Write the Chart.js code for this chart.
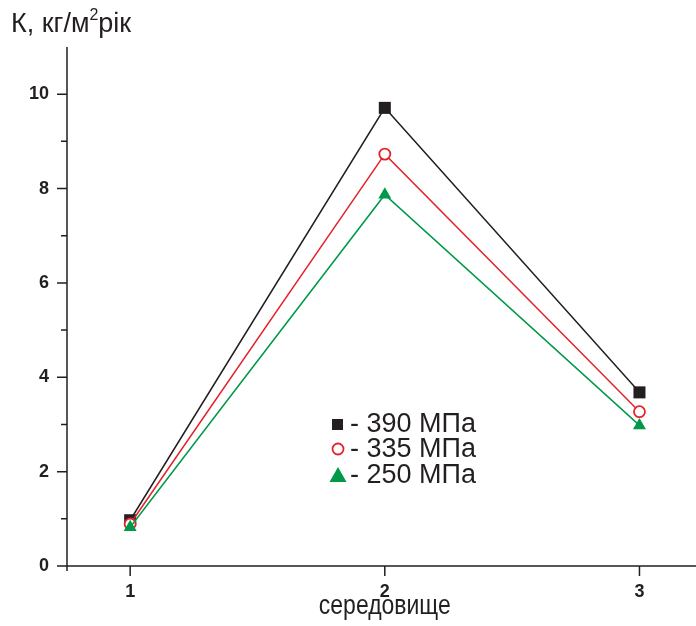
<!DOCTYPE html>
<html><head><meta charset="utf-8">
<script src="https://cdn.jsdelivr.net/npm/chart.js@4"></script>
<style>html,body{margin:0;padding:0;background:#fff;}#w{width:696px;height:626px;}</style>
</head><body><div id="w"><canvas id="c" width="696" height="626"></canvas></div>
<script>
const categories = [1, 2, 3];
const s390 = [0.97, 9.71, 3.68];
const s335 = [0.89, 8.73, 3.27];
const s250 = [0.82, 7.87, 2.98];
const seriesLabels = ['- 390 МПа', '- 335 МПа', '- 250 МПа'];
const yTicks = [0, 2, 4, 6, 8, 10];
const yMinor = [1, 3, 5, 7, 9];
const xTicks = [1, 2, 3];

const BLACK = '#231f20', RED = '#e3232a', GREEN = '#00994a';
const FONT = '"Liberation Sans", Arial, sans-serif';

const pts = a => categories.map((c, i) => ({x: c, y: a[i]}));

const overlay = {
  id: 'overlay',
  afterDraw(chart) {
    const ctx = chart.ctx, xs = chart.scales.x, ys = chart.scales.y;
    const L = xs.left, B = ys.bottom;
    ctx.save();
    ctx.strokeStyle = BLACK; ctx.lineWidth = 1.5;
    ctx.beginPath();
    ctx.moveTo(L, ys.top); ctx.lineTo(L, B + 5);
    ctx.moveTo(L - 10, B); ctx.lineTo(chart.width, B);
    yTicks.forEach(v => { const p = ys.getPixelForValue(v); ctx.moveTo(L - 10, p); ctx.lineTo(L, p); });
    yMinor.forEach(v => { const p = ys.getPixelForValue(v); ctx.moveTo(L - 6, p); ctx.lineTo(L, p); });
    xTicks.forEach(v => { const p = xs.getPixelForValue(v); ctx.moveTo(p, B); ctx.lineTo(p, B + 10); });
    ctx.stroke();
    // title
    ctx.fillStyle = BLACK; ctx.textBaseline = 'alphabetic'; ctx.textAlign = 'left';
    ctx.font = '27px ' + FONT;
    let x = 11; const by = 32;
    ctx.fillText('К, кг/м', x, by); x += ctx.measureText('К, кг/м').width;
    ctx.font = '16px ' + FONT; ctx.fillText('2', x, by - 12); x += ctx.measureText('2').width;
    ctx.font = '27px ' + FONT; ctx.fillText('рік', x, by);
    // x title (condensed)
    ctx.save();
    ctx.font = '28px ' + FONT; ctx.textAlign = 'center';
    const cx = xs.getPixelForValue(2);
    ctx.translate(cx, 614); ctx.scale(0.82, 1);
    ctx.fillText('середовище', 0, 0);
    ctx.restore();
    // legend
    ctx.textAlign = 'left'; ctx.font = '27px ' + FONT; ctx.textBaseline = 'alphabetic';
    const rows = [424, 449, 475];
    const mx = 338;
    ctx.fillStyle = BLACK; ctx.fillRect(mx - 6, rows[0] - 5, 11, 11);
    ctx.strokeStyle = RED; ctx.lineWidth = 1.8; ctx.fillStyle = '#fff';
    ctx.beginPath(); ctx.arc(mx, rows[1], 5.5, 0, Math.PI * 2); ctx.fill(); ctx.stroke();
    ctx.fillStyle = GREEN; ctx.beginPath();
    ctx.moveTo(mx, rows[2] - 8); ctx.lineTo(mx + 8.5, rows[2] + 7); ctx.lineTo(mx - 8.5, rows[2] + 7); ctx.closePath(); ctx.fill();
    ctx.fillStyle = BLACK;
    seriesLabels.forEach((t, i) => ctx.fillText(t, 350, rows[i] + 8));
    ctx.restore();
  }
};

new Chart(document.getElementById('c'), {
  type: 'line',
  data: {
    datasets: [
      {label: '390 МПа', data: pts(s390), borderColor: BLACK, backgroundColor: BLACK, borderWidth: 1.5,
       pointStyle: 'rect', pointRadius: 8.5, pointBorderWidth: 0, order: 3},
      {label: '335 МПа', data: pts(s335), borderColor: RED, backgroundColor: '#fff', borderWidth: 1.5,
       pointStyle: 'circle', pointRadius: 5.5, pointBorderWidth: 1.8, pointBorderColor: RED, order: 2},
      {label: '250 МПа', data: pts(s250), borderColor: GREEN, backgroundColor: GREEN, borderWidth: 1.5,
       pointStyle: 'triangle', pointRadius: 7.5, pointBorderWidth: 0, order: 1}
    ]
  },
  options: {
    responsive: false, animation: false, devicePixelRatio: 1,
    layout: {autoPadding: false, padding: {top: 47, right: 0, left: 0, bottom: 0}},
    plugins: {legend: {display: false}, tooltip: {enabled: false}},
    scales: {
      x: {type: 'linear', min: 0.752, max: 3.222,
          afterBuildTicks: s => { s.ticks = xTicks.map(v => ({value: v})); },
          afterFit: s => { s.height = 60; s.paddingLeft = 0; s.paddingRight = 0; },
          grid: {display: false}, border: {display: false},
          ticks: {color: BLACK, font: {family: FONT, size: 18, weight: 'bold'}, padding: 7}},
      y: {min: 0, max: 11,
          afterBuildTicks: s => { s.ticks = yTicks.map(v => ({value: v})); },
          afterFit: s => { s.width = 67; s.paddingTop = 0; s.paddingBottom = 0; },
          grid: {display: false}, border: {display: false},
          ticks: {color: BLACK, font: {family: FONT, size: 18, weight: 'bold'}, padding: 10}}
    }
  },
  plugins: [overlay]
});
</script></body></html>
